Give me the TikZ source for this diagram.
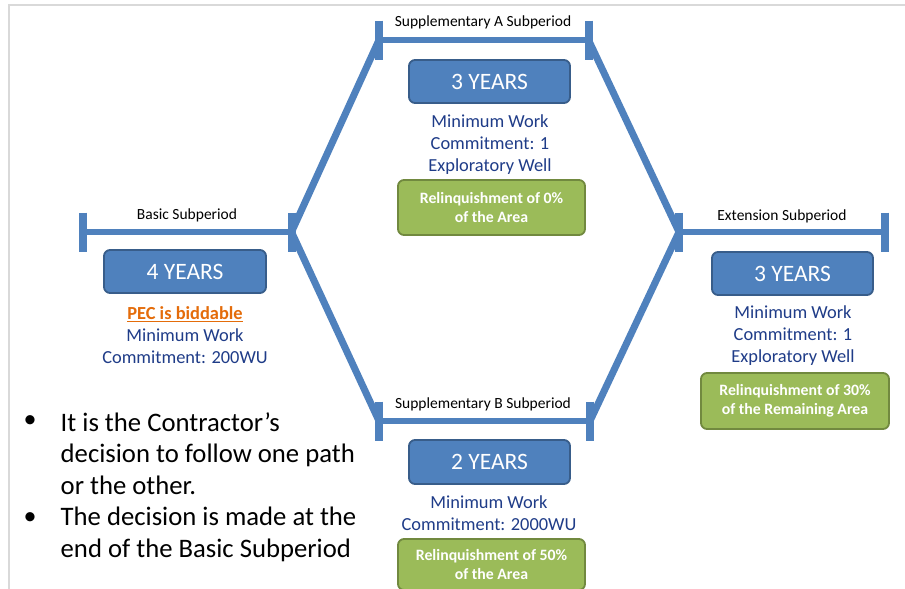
\documentclass[tikz,border=0pt]{standalone}
\usepackage{fontspec}
\setmainfont{Carlito}
\definecolor{lineblue}{HTML}{4F81BD}
\definecolor{boxblue}{HTML}{4F81BD}
\definecolor{boxblueborder}{HTML}{385D8A}
\definecolor{boxgreen}{HTML}{9BBB59}
\definecolor{boxgreenborder}{HTML}{71893F}
\definecolor{navytext}{HTML}{1F3C88}
\definecolor{pecorange}{HTML}{E46C0A}
\definecolor{framegray}{HTML}{D9D9D9}
\begin{document}
\begin{tikzpicture}[x=1pt,y=-1pt,
  bar/.style={lineblue, line width=6pt},
  diag/.style={lineblue, line width=7pt},
  tickmark/.style={lineblue, line width=8pt},
  lbl/.style={font=\fontsize{15.5}{18}\selectfont, text=black, inner sep=0pt},
  yearbox/.style={rounded corners=6pt, fill=boxblue, draw=boxblueborder, line width=1.8pt,
    minimum width=160pt, minimum height=43pt, text=white, inner sep=0pt,
    font=\fontsize{23.5}{27}\selectfont},
  greenbox/.style={rounded corners=6pt, fill=boxgreen, draw=boxgreenborder, line width=1.8pt,
    minimum width=187pt, minimum height=55pt, text=white, align=center, inner sep=0pt,
    font=\bfseries\fontsize{15.8}{19}\selectfont},
  bluetext/.style={text=navytext, align=center, inner sep=0pt,
    font=\fontsize{18.4}{22}\selectfont},
  bullettext/.style={text=black, align=left, inner sep=0pt,
    font=\fontsize{26.7}{31.5}\selectfont},
  bulletdot/.style={text=black, inner sep=0pt, font=\fontsize{26}{31.5}\selectfont}
]
\useasboundingbox (0,0) rectangle (905,589);
\fill[white] (0,0) rectangle (905,589);
\draw[framegray, line width=2pt] (8.5,589) -- (8.5,4.5) -- (905,4.5);

% period bar end points
\coordinate (bL) at (82.5,232);
\coordinate (bR) at (291.5,232);
\coordinate (aL) at (379,40);
\coordinate (aR) at (588.5,40);
\coordinate (eL) at (679,232);
\coordinate (eR) at (885,232);
\coordinate (sL) at (379,421);
\coordinate (sR) at (590,421);

% diagonals
\draw[diag] (bR) -- (aL);
\draw[diag] (bR) -- (sL);
\draw[diag] (aR) -- (eL);
\draw[diag] (sR) -- (eL);

% bars
\draw[bar] (bL) -- (bR);
\draw[bar] (aL) -- (aR);
\draw[bar] (eL) -- (eR);
\draw[bar] (sL) -- (sR);

% ticks
\foreach \p in {bL,bR,aL,aR,eL,eR,sL,sR}{
  \draw[tickmark] ([yshift=19.5pt]\p) -- ([yshift=-19.5pt]\p);
}

% period labels
\node[lbl] (basicLbl) at (187,215) {Basic Subperiod};
\node[lbl] (aLbl) at (483,22) {Supplementary A Subperiod};
\node[lbl] (eLbl) at (782,216) {Extension Subperiod};
\node[lbl] (sLbl) at (483,404) {Supplementary B Subperiod};

% year boxes
\node[yearbox, minimum width=162pt] (y4) at (185,271.5) {4 YEARS};
\node[yearbox, minimum width=161pt] (y3a) at (489.5,81.5) {3 YEARS};
\node[yearbox, minimum width=161pt] (y3e) at (792.5,273.5) {3 YEARS};
\node[yearbox, minimum width=161pt, minimum height=44pt] (y2b) at (489.5,462) {2 YEARS};

% commitments
\node[bluetext] (cBasic) at (185,335) {{\bfseries\color{pecorange}\underline{PEC is biddable}}\\Minimum Work\\Commitment: 200WU};
\node[bluetext] (cA) at (490,145) {Minimum Work\\Commitment: 1\\Exploratory Well};
\node[bluetext] (cE) at (793,336) {Minimum Work\\Commitment: 1\\Exploratory Well};
\node[bluetext] (cB) at (489,513) {Minimum Work\\Commitment: 2000WU};

% relinquishment boxes
\node[greenbox] (gA) at (491.5,207.5) {Relinquishment of 0\%\\of the Area};
\node[greenbox, minimum width=188pt, minimum height=56pt] (gE) at (795,401) {Relinquishment of 30\%\\of the Remaining Area};
\node[greenbox, minimum height=51pt] (gB) at (491.5,564.5) {Relinquishment of 50\%\\of the Area};

% bullets
\node[bulletdot, anchor=base] (dot1) at (30,427) {•};
\node[bullettext, anchor=base west] (item1) at (60.5,494) {It is the Contractor’s\\decision to follow one path\\or the other.};
\node[bulletdot, anchor=base] (dot2) at (30,524) {•};
\node[bullettext, anchor=base west] (item2) at (60.5,557) {The decision is made at the\\end of the Basic Subperiod};
\end{tikzpicture}
\end{document}
